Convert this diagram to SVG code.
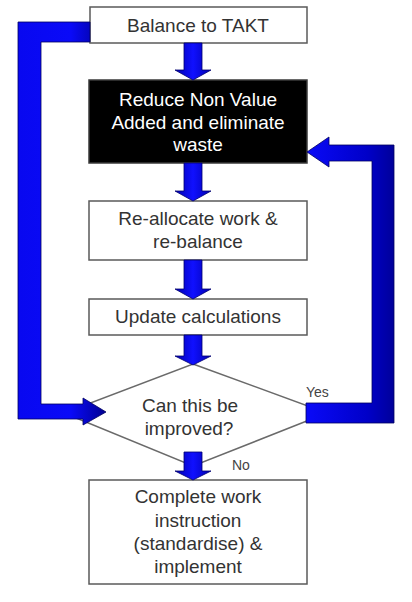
<svg xmlns="http://www.w3.org/2000/svg" width="412" height="602" viewBox="0 0 412 602">
<style>
.box{fill:#ffffff;stroke:#5a5a5a;stroke-width:1.5}
.dark{fill:#000000;stroke:#3a3a3a;stroke-width:1.5}
.t{font-family:"Liberation Sans",Arial,sans-serif;font-size:19px;fill:#333333;text-anchor:middle}
.tw{fill:#ffffff}
.lbl{font-family:"Liberation Sans",Arial,sans-serif;font-size:14px;fill:#444444}
.dia{fill:#ffffff;stroke:#6a6a6a;stroke-width:1.5}
.down{fill:url(#gDown);stroke:#000070;stroke-width:0.8}
.bent{stroke:#000060;stroke-width:0.8}
</style>
<defs>
<linearGradient id="gDown" x1="0" y1="0" x2="1" y2="0">
<stop offset="0" stop-color="#0000b0"/>
<stop offset="0.5" stop-color="#1010ff"/>
<stop offset="1" stop-color="#0000b0"/>
</linearGradient>
<linearGradient id="gLeft" x1="0" y1="0" x2="1" y2="0">
<stop offset="0" stop-color="#0808f0"/>
<stop offset="0.6" stop-color="#0a0af8"/>
<stop offset="1" stop-color="#000090"/>
</linearGradient>
<linearGradient id="gRight" x1="0" y1="0" x2="1" y2="0">
<stop offset="0" stop-color="#0a0af8"/>
<stop offset="0.7" stop-color="#0000c8"/>
<stop offset="1" stop-color="#00009a"/>
</linearGradient>
</defs>

<g id="node-balance">
<rect class="box" x="90" y="7" width="217" height="36"/>
<text class="t" x="198" y="32">Balance to TAKT</text>
</g>

<g id="node-reduce">
<rect class="dark" x="89" y="80" width="218" height="83"/>
<text class="t tw" x="198" y="106">Reduce Non Value</text>
<text class="t tw" x="198" y="128.5">Added and eliminate</text>
<text class="t tw" x="198" y="151">waste</text>
</g>

<g id="node-reallocate">
<rect class="box" x="89" y="201" width="218" height="59"/>
<text class="t" x="198" y="225">Re-allocate work &amp;</text>
<text class="t" x="198" y="248">re-balance</text>
</g>

<g id="node-update">
<rect class="box" x="89" y="299" width="218" height="36"/>
<text class="t" x="198" y="323">Update calculations</text>
</g>

<g id="node-decision">
<polygon class="dia" points="193,364 327,413 193,466 64,413"/>
<text class="t" x="190" y="412">Can this be</text>
<text class="t" x="189" y="435">improved?</text>
</g>

<g id="node-complete">
<rect class="box" x="89" y="480" width="218" height="104"/>
<text class="t" x="198" y="503">Complete work</text>
<text class="t" x="198" y="527">instruction</text>
<text class="t" x="198" y="550">(standardise) &amp;</text>
<text class="t" x="198" y="573">implement</text>
</g>

<g id="connectors">
<path class="bent" fill="url(#gLeft)" d="M90,22 L18,22 L18,419 L83,419 L83,425 L106,412 L83,398 L83,404 L41,404 L41,42 L90,42 Z"/>
<path class="bent" fill="url(#gRight)" d="M306,403 L372,403 L372,161 L329,161 L329,167 L307,152 L329,137 L329,145 L394,145 L394,423 L306,423 Z"/>
<path class="down" d="M184,43 L202,43 L202,70 L211,70 L193,80 L175,70 L184,70 Z"/>
<path class="down" d="M184,163 L202,163 L202,191 L211,191 L193,201 L175,191 L184,191 Z"/>
<path class="down" d="M184,260 L202,260 L202,289 L211,289 L193,299 L175,289 L184,289 Z"/>
<path class="down" d="M184,335 L202,335 L202,356 L211,356 L193,365 L175,356 L184,356 Z"/>
<path class="down" d="M184,452 L202,452 L202,471 L211,471 L193,480 L175,471 L184,471 Z"/>
<text class="lbl" x="306" y="397">Yes</text>
<text class="lbl" x="232" y="470">No</text>
</g>
</svg>
